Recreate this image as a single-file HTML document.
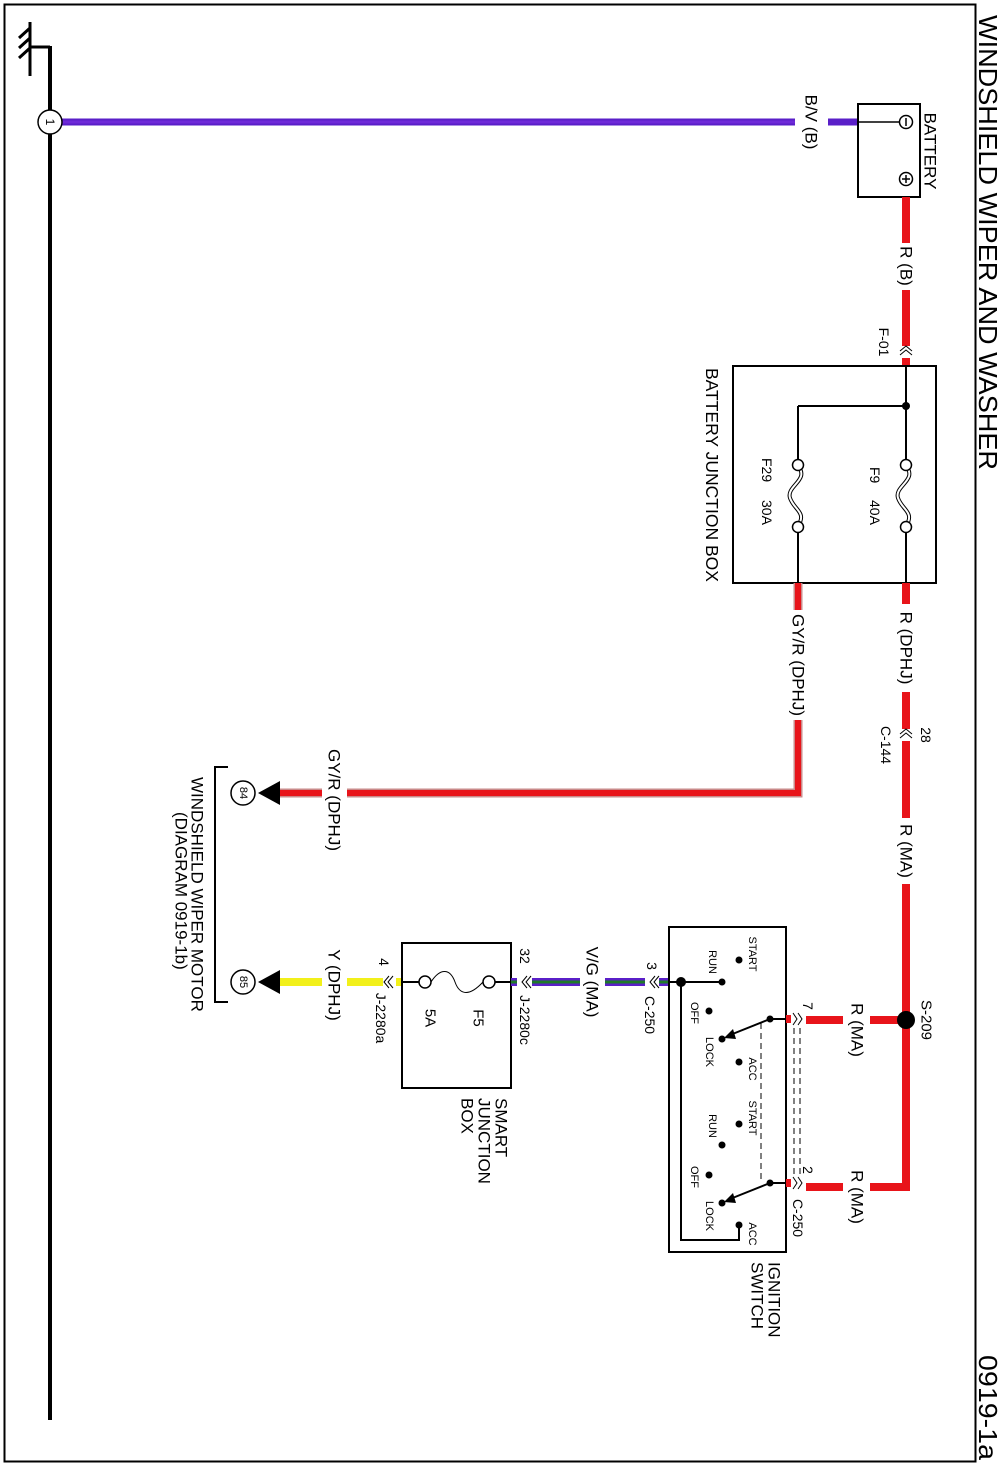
<!DOCTYPE html>
<html><head><meta charset="utf-8">
<style>
html,body{margin:0;padding:0;background:#fff;}
svg{display:block;}
text{font-family:"Liberation Sans",Arial,sans-serif;fill:#000;}
</style></head>
<body>
<svg width="1006" height="1465" viewBox="0 0 1006 1465" xmlns="http://www.w3.org/2000/svg">
<rect x="0" y="0" width="1006" height="1465" fill="#fff"/>
<rect x="4.5" y="4.5" width="971" height="1457" fill="none" stroke="#000" stroke-width="2"/>

<text transform="translate(988,15) rotate(90)" font-size="26" text-anchor="start" dominant-baseline="central" textLength="455" lengthAdjust="spacingAndGlyphs">WINDSHIELD WIPER AND WASHER</text>
<text transform="translate(988,1355) rotate(90)" font-size="26" text-anchor="start" dominant-baseline="central" textLength="105" lengthAdjust="spacingAndGlyphs">0919-1a</text>

<g stroke="#000" stroke-width="3" fill="none">
<line x1="30" y1="22" x2="30" y2="76"/>
<line x1="30" y1="47" x2="50" y2="47"/>
<line x1="50" y1="46" x2="50" y2="1420" stroke-width="4"/>
<line x1="30" y1="28" x2="19" y2="38"/>
<line x1="30" y1="38" x2="19" y2="48"/>
<line x1="30" y1="48" x2="19" y2="58"/>
</g>

<line x1="62" y1="122" x2="795" y2="122" stroke="#5a1fc8" stroke-width="7"/>
<line x1="62" y1="122" x2="795" y2="122" stroke="#6e2ad8" stroke-width="3"/>
<line x1="828" y1="122" x2="858" y2="122" stroke="#5a1fc8" stroke-width="7"/>
<circle cx="50" cy="122" r="12" fill="#fff" stroke="#000" stroke-width="1.5"/>
<text transform="translate(50,122) rotate(90)" font-size="12" text-anchor="middle" dominant-baseline="central">1</text>
<text transform="translate(811,122) rotate(90)" font-size="17" text-anchor="middle" dominant-baseline="central">B/V (B)</text>

<rect x="858" y="104" width="62" height="93" fill="#fff" stroke="#000" stroke-width="2"/>
<line x1="858" y1="122" x2="900" y2="122" stroke="#000" stroke-width="1.5"/>
<circle cx="906" cy="122" r="6.5" fill="#fff" stroke="#000" stroke-width="1.5"/>
<line x1="906" y1="118" x2="906" y2="126" stroke="#000" stroke-width="1.5"/>
<circle cx="906" cy="179" r="6.5" fill="#fff" stroke="#000" stroke-width="1.5"/>
<line x1="906" y1="175" x2="906" y2="183" stroke="#000" stroke-width="1.5"/>
<line x1="902" y1="179" x2="910" y2="179" stroke="#000" stroke-width="1.5"/>
<text transform="translate(930,151) rotate(90)" font-size="17" text-anchor="middle" dominant-baseline="central">BATTERY</text>

<g stroke="#e8141a" stroke-width="8">
<line x1="906" y1="197" x2="906" y2="243"/>
<line x1="906" y1="290" x2="906" y2="346"/>
<line x1="906" y1="358" x2="906" y2="366"/>
</g>
<text transform="translate(906,266) rotate(90)" font-size="17" text-anchor="middle" dominant-baseline="central">R (B)</text>
<g stroke="#000" stroke-width="1" fill="none">
<path d="M900 351 L906 346 L912 351"/><path d="M900 355 L906 350 L912 355"/>
</g>
<text transform="translate(884,342) rotate(90)" font-size="14" text-anchor="middle" dominant-baseline="central">F-01</text>

<rect x="733" y="366" width="203" height="217" fill="#fff" stroke="#000" stroke-width="2"/>
<g stroke="#000" stroke-width="2" fill="none">
<line x1="906" y1="366" x2="906" y2="459"/>
<line x1="798" y1="406" x2="906" y2="406"/>
<line x1="798" y1="406" x2="798" y2="459"/>
<line x1="906" y1="533" x2="906" y2="583"/>
<line x1="798" y1="533" x2="798" y2="583"/>
</g>
<circle cx="906" cy="406" r="4" fill="#000"/>
<g fill="none">
<path d="M906 466 C 918 480, 894 486, 898 498 C 902 510, 915 512, 906 526" stroke="#000" stroke-width="4"/>
<path d="M906 466 C 918 480, 894 486, 898 498 C 902 510, 915 512, 906 526" stroke="#fff" stroke-width="2"/>
<path d="M798 466 C 810 480, 786 486, 790 498 C 794 510, 807 512, 798 526" stroke="#000" stroke-width="4"/>
<path d="M798 466 C 810 480, 786 486, 790 498 C 794 510, 807 512, 798 526" stroke="#fff" stroke-width="2"/>
</g>
<g fill="#fff" stroke="#000" stroke-width="1.5">
<circle cx="906" cy="465" r="5.5"/><circle cx="906" cy="527" r="5.5"/>
<circle cx="798" cy="465" r="5.5"/><circle cx="798" cy="527" r="5.5"/>
</g>
<text transform="translate(875,467) rotate(90)" font-size="14" text-anchor="start" dominant-baseline="central">F9</text>
<text transform="translate(875,500) rotate(90)" font-size="14" text-anchor="start" dominant-baseline="central">40A</text>
<text transform="translate(767,458) rotate(90)" font-size="14" text-anchor="start" dominant-baseline="central">F29</text>
<text transform="translate(767,500) rotate(90)" font-size="14" text-anchor="start" dominant-baseline="central">30A</text>
<text transform="translate(712,368) rotate(90)" font-size="17.5" text-anchor="start" dominant-baseline="central">BATTERY JUNCTION BOX</text>

<g stroke="#e8141a" stroke-width="8" fill="none">
<line x1="906" y1="583" x2="906" y2="604"/>
<line x1="906" y1="692" x2="906" y2="729"/>
<line x1="906" y1="741" x2="906" y2="818"/>
<path d="M906 884 L906 1187 L870 1187"/>
<line x1="843" y1="1187" x2="806" y2="1187"/>
<line x1="906" y1="1020" x2="870" y2="1020"/>
<line x1="843" y1="1020" x2="806" y2="1020"/>
</g>
<text transform="translate(906,648) rotate(90)" font-size="17" text-anchor="middle" dominant-baseline="central">R (DPHJ)</text>
<g stroke="#000" stroke-width="1" fill="none">
<path d="M900 734 L906 729 L912 734"/><path d="M900 738 L906 733 L912 738"/>
</g>
<text transform="translate(926,735) rotate(90)" font-size="14" text-anchor="middle" dominant-baseline="central">28</text>
<text transform="translate(886,745) rotate(90)" font-size="14" text-anchor="middle" dominant-baseline="central">C-144</text>
<text transform="translate(906,851) rotate(90)" font-size="17" text-anchor="middle" dominant-baseline="central">R (MA)</text>
<circle cx="906" cy="1020" r="9" fill="#000"/>
<text transform="translate(926,1020) rotate(90)" font-size="15" text-anchor="middle" dominant-baseline="central">S-209</text>
<text transform="translate(857,1030) rotate(90)" font-size="17" text-anchor="middle" dominant-baseline="central">R (MA)</text>
<text transform="translate(857,1197) rotate(90)" font-size="17" text-anchor="middle" dominant-baseline="central">R (MA)</text>

<g fill="none">
<path d="M798 583 L798 610" stroke="#c98a8a" stroke-width="9"/>
<path d="M798 583 L798 610" stroke="#e8141a" stroke-width="6"/>
<path d="M798 720 L798 793 L347 793" stroke="#c98a8a" stroke-width="9"/>
<path d="M798 720 L798 793 L347 793" stroke="#e8141a" stroke-width="6"/>
<path d="M322 793 L280 793" stroke="#c98a8a" stroke-width="9"/>
<path d="M322 793 L280 793" stroke="#e8141a" stroke-width="6"/>
</g>
<text transform="translate(798,665) rotate(90)" font-size="17" text-anchor="middle" dominant-baseline="central">GY/R (DPHJ)</text>
<text transform="translate(334,800) rotate(90)" font-size="17" text-anchor="middle" dominant-baseline="central">GY/R (DPHJ)</text>
<polygon points="258,793 280,781 280,805" fill="#000"/>
<circle cx="243" cy="793" r="12" fill="#fff" stroke="#000" stroke-width="1.5"/>
<text transform="translate(243,793) rotate(90)" font-size="11" text-anchor="middle" dominant-baseline="central">84</text>

<line x1="402" y1="982" x2="396" y2="982" stroke="#f2f01a" stroke-width="8"/>
<line x1="383" y1="982" x2="347" y2="982" stroke="#f2f01a" stroke-width="8"/>
<line x1="322" y1="982" x2="280" y2="982" stroke="#f2f01a" stroke-width="8"/>
<g stroke="#000" stroke-width="1" fill="none">
<path d="M393 976 L388 982 L393 988"/><path d="M389 976 L384 982 L389 988"/>
</g>
<text transform="translate(384,962) rotate(90)" font-size="14" text-anchor="middle" dominant-baseline="central">4</text>
<text transform="translate(381,1018) rotate(90)" font-size="14" text-anchor="middle" dominant-baseline="central">J-2280a</text>
<text transform="translate(334,985) rotate(90)" font-size="17" text-anchor="middle" dominant-baseline="central">Y (DPHJ)</text>
<polygon points="258,982 280,970 280,994" fill="#000"/>
<circle cx="243" cy="982" r="12" fill="#fff" stroke="#000" stroke-width="1.5"/>
<text transform="translate(243,982) rotate(90)" font-size="11" text-anchor="middle" dominant-baseline="central">85</text>

<path d="M228 767 L215 767 L215 1002 L228 1002" fill="none" stroke="#000" stroke-width="2"/>
<text transform="translate(197,777) rotate(90)" font-size="17" text-anchor="start" dominant-baseline="central">WINDSHIELD WIPER MOTOR</text>
<text transform="translate(181,812) rotate(90)" font-size="17" text-anchor="start" dominant-baseline="central">(DIAGRAM 0919-1b)</text>

<rect x="402" y="943" width="109" height="145" fill="#fff" stroke="#000" stroke-width="2"/>
<g stroke="#000" stroke-width="2"><line x1="402" y1="982" x2="419" y2="982"/><line x1="495" y1="982" x2="511" y2="982"/></g>
<path d="M431 982 C 440 968, 450 968, 455 982 C 460 996, 470 996, 483 982" fill="none" stroke="#000" stroke-width="1"/>
<circle cx="425" cy="982" r="6" fill="#fff" stroke="#000" stroke-width="1.5"/>
<circle cx="489" cy="982" r="6" fill="#fff" stroke="#000" stroke-width="1.5"/>
<text transform="translate(478,1018) rotate(90)" font-size="15" text-anchor="middle" dominant-baseline="central">F5</text>
<text transform="translate(430,1018) rotate(90)" font-size="15" text-anchor="middle" dominant-baseline="central">5A</text>
<text transform="translate(501,1098) rotate(90)" font-size="17" text-anchor="start" dominant-baseline="central">SMART</text>
<text transform="translate(484,1098) rotate(90)" font-size="17" text-anchor="start" dominant-baseline="central">JUNCTION</text>
<text transform="translate(467,1098) rotate(90)" font-size="17" text-anchor="start" dominant-baseline="central">BOX</text>

<g>
<line x1="511" y1="982" x2="517" y2="982" stroke="#5a1fc8" stroke-width="8"/>
<line x1="511" y1="982" x2="517" y2="982" stroke="#1f7a2a" stroke-width="3"/>
<line x1="532" y1="982" x2="580" y2="982" stroke="#5a1fc8" stroke-width="8"/>
<line x1="532" y1="982" x2="580" y2="982" stroke="#1f7a2a" stroke-width="3"/>
<line x1="605" y1="982" x2="645" y2="982" stroke="#5a1fc8" stroke-width="8"/>
<line x1="605" y1="982" x2="645" y2="982" stroke="#1f7a2a" stroke-width="3"/>
<line x1="659" y1="982" x2="668" y2="982" stroke="#5a1fc8" stroke-width="8"/>
<line x1="659" y1="982" x2="668" y2="982" stroke="#1f7a2a" stroke-width="3"/>
</g>
<g stroke="#000" stroke-width="1" fill="none">
<path d="M527 976 L522 982 L527 988"/><path d="M531 976 L526 982 L531 988"/>
<path d="M655 976 L650 982 L655 988"/><path d="M659 976 L654 982 L659 988"/>
</g>
<text transform="translate(525,956) rotate(90)" font-size="14" text-anchor="middle" dominant-baseline="central">32</text>
<text transform="translate(525,1020) rotate(90)" font-size="14" text-anchor="middle" dominant-baseline="central">J-2280c</text>
<text transform="translate(592,982) rotate(90)" font-size="17" text-anchor="middle" dominant-baseline="central">V/G (MA)</text>
<text transform="translate(652,966) rotate(90)" font-size="14" text-anchor="middle" dominant-baseline="central">3</text>
<text transform="translate(650,1015) rotate(90)" font-size="14" text-anchor="middle" dominant-baseline="central">C-250</text>

<rect x="669" y="927" width="117" height="325" fill="#fff" stroke="#000" stroke-width="2"/>
<g stroke="#000" stroke-width="2" fill="none">
<line x1="669" y1="982" x2="722" y2="982"/>
<path d="M681 982 L681 1240 L739 1240 L739 1225"/>
<line x1="770" y1="1019" x2="786" y2="1019"/>
<line x1="770" y1="1183" x2="786" y2="1183"/>
<line x1="770" y1="1019" x2="730" y2="1035"/>
<line x1="770" y1="1183" x2="730" y2="1199"/>
</g>
<polygon points="724,1038 733,1029 736,1039" fill="#000"/>
<polygon points="724,1202 733,1193 736,1203" fill="#000"/>
<line x1="761" y1="1023" x2="761" y2="1183" stroke="#000" stroke-width="1" stroke-dasharray="6,4"/>
<circle cx="681" cy="982" r="5" fill="#000"/>
<g fill="#000">
<circle cx="739" cy="960" r="3.5"/><circle cx="722" cy="982" r="3.5"/><circle cx="709" cy="1011" r="3.5"/>
<circle cx="722" cy="1039" r="3.5"/><circle cx="739" cy="1062" r="3.5"/><circle cx="770" cy="1019" r="3.5"/>
<circle cx="739" cy="1124" r="3.5"/><circle cx="722" cy="1145" r="3.5"/><circle cx="709" cy="1175" r="3.5"/>
<circle cx="722" cy="1203" r="3.5"/><circle cx="739" cy="1225" r="3.5"/><circle cx="770" cy="1183" r="3.5"/>
</g>
<g font-size="11">
<text transform="translate(752,954) rotate(90)" text-anchor="middle" dominant-baseline="central">START</text>
<text transform="translate(712,962) rotate(90)" text-anchor="middle" dominant-baseline="central">RUN</text>
<text transform="translate(694,1013) rotate(90)" text-anchor="middle" dominant-baseline="central">OFF</text>
<text transform="translate(709,1052) rotate(90)" text-anchor="middle" dominant-baseline="central">LOCK</text>
<text transform="translate(752,1069) rotate(90)" text-anchor="middle" dominant-baseline="central">ACC</text>
<text transform="translate(752,1118) rotate(90)" text-anchor="middle" dominant-baseline="central">START</text>
<text transform="translate(712,1126) rotate(90)" text-anchor="middle" dominant-baseline="central">RUN</text>
<text transform="translate(694,1177) rotate(90)" text-anchor="middle" dominant-baseline="central">OFF</text>
<text transform="translate(709,1216) rotate(90)" text-anchor="middle" dominant-baseline="central">LOCK</text>
<text transform="translate(752,1234) rotate(90)" text-anchor="middle" dominant-baseline="central">ACC</text>
</g>
<text transform="translate(774,1262) rotate(90)" font-size="17" text-anchor="start" dominant-baseline="central">IGNITION</text>
<text transform="translate(757,1262) rotate(90)" font-size="17" text-anchor="start" dominant-baseline="central">SWITCH</text>

<g stroke="#e8141a" stroke-width="8">
<line x1="786" y1="1019" x2="791" y2="1019"/>
<line x1="786" y1="1183" x2="791" y2="1183"/>
</g>
<g stroke="#000" stroke-width="1" fill="none">
<path d="M793 1013 L797 1019 L793 1025"/><path d="M798 1013 L802 1019 L798 1025"/>
<path d="M793 1177 L797 1183 L793 1189"/><path d="M798 1177 L802 1183 L798 1189"/>
<line x1="794" y1="1028" x2="794" y2="1174" stroke-dasharray="6,4"/>
<line x1="800" y1="1028" x2="800" y2="1174" stroke-dasharray="6,4"/>
</g>
<text transform="translate(808,1006) rotate(90)" font-size="14" text-anchor="middle" dominant-baseline="central">7</text>
<text transform="translate(808,1170) rotate(90)" font-size="14" text-anchor="middle" dominant-baseline="central">2</text>
<text transform="translate(798,1218) rotate(90)" font-size="14" text-anchor="middle" dominant-baseline="central">C-250</text>
</svg>
</body></html>
